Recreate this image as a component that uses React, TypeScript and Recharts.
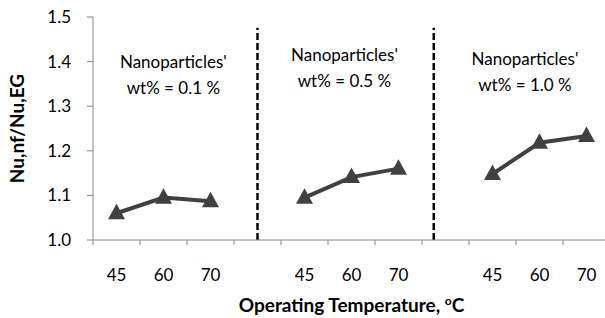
import React from 'react';
import { LineChart, Line, XAxis, YAxis, ReferenceLine, ReferenceDot } from 'recharts';

const temps = ['45', '60', '70', '', '45', '60', '70', '', '45', '60', '70'];
const nuRatio = [1.06, 1.095, 1.087, null, 1.095, 1.141, 1.16, null, 1.148, 1.218, 1.233];
const yTicks = [1.0, 1.1, 1.2, 1.3, 1.4, 1.5];
const groupDividers = [3.5, 7.25];
const notes = [
  { x: 1.71, y: 1.4, text: 'wt% = 0.1 %' },
  { x: 5.35, y: 1.415, text: 'wt% = 0.5 %' },
  { x: 9.19, y: 1.406, text: 'wt% = 1.0 %' },
];

const data = temps.map((t, i) => ({ x: i + 0.5, temp: t, ratio: nuRatio[i] }));
const xTicks: number[] = [];
for (let i = 0; i <= temps.length; i++) {
  xTicks.push(i);
  if (i < temps.length && temps[i] !== '') xTicks.push(i + 0.5);
}

const FONT = 'Lato, "Open Sans", sans-serif';
const AXIS = '#868686';
const INK = '#404040';

function XTick({ x, y, payload }: any) {
  const v = payload.value;
  if (Number.isInteger(v)) {
    return <line x1={x} x2={x} y1={y} y2={y + 5} stroke={AXIS} strokeWidth={1} />;
  }
  return (
    <text x={x} y={y + 41} textAnchor="middle" fontSize={17} fontFamily={FONT} fill="#000">
      {temps[Math.floor(v)]}
    </text>
  );
}

function Triangle({ cx, cy }: any) {
  if (cx == null || cy == null) return null;
  return (
    <path
      d={`M${cx},${cy - 9.5} L${cx + 8.5},${cy + 6} L${cx - 8.5},${cy + 6} Z`}
      fill={INK}
    />
  );
}

function NoteLabel(text: string) {
  return ({ viewBox }: any) => {
    const cx = viewBox.x + (viewBox.width || 0) / 2;
    const cy = viewBox.y + (viewBox.height || 0) / 2;
    return (
      <text textAnchor="middle" fontSize={17} fontFamily={FONT} fill="#000">
        <tspan x={cx} y={cy + 6}>Nanoparticles'</tspan>
        <tspan x={cx} y={cy + 32}>{text}</tspan>
      </text>
    );
  };
}

function XTitle({ viewBox }: any) {
  const cx = viewBox.x + viewBox.width / 2;
  return (
    <text x={cx} y={312} textAnchor="middle" fontSize={19} fontWeight="bold" fontFamily={FONT} fill="#000">
      Operating Temperature, <tspan fontSize={12} dy={-7}>o</tspan>
      <tspan dy={7}>C</tspan>
    </text>
  );
}

export default function App() {
  return (
    <div style={{ position: 'absolute', left: 0, top: 0, width: 605, height: 318, overflow: 'hidden', background: '#fff' }}>
      <LineChart width={610} height={318} data={data} margin={{ top: 17, right: 0, bottom: 0, left: 0 }}>
        <XAxis
          dataKey="x"
          type="number"
          domain={[0, 11]}
          ticks={xTicks}
          interval={0}
          tickSize={0}
          tickMargin={0}
          tickLine={false}
          tick={<XTick />}
          axisLine={{ stroke: AXIS }}
          height={78}
          label={<XTitle />}
        />
        <YAxis
          domain={[1.0, 1.5]}
          ticks={yTicks}
          interval={0}
          width={93}
          tickSize={6}
          tickMargin={16}
          tickFormatter={(v: number) => v.toFixed(1)}
          tick={{ fontSize: 17, fontFamily: FONT, fill: '#000' }}
          axisLine={{ stroke: AXIS }}
          tickLine={{ stroke: AXIS }}
          label={{
            value: 'Nu,nf/Nu,EG',
            angle: -90,
            position: 'insideLeft',
            offset: 17,
            style: { textAnchor: 'middle', fontSize: 19, fontWeight: 'bold', fontFamily: FONT, fill: '#000' },
          }}
        />
        {groupDividers.map((d) => (
          <ReferenceLine
            key={d}
            segment={[{ x: d, y: 1.0 }, { x: d, y: 1.476 }]}
            stroke="#000"
            strokeWidth={2.5}
            strokeDasharray="7 3"
          />
        ))}
        {notes.map((n) => (
          <ReferenceDot key={n.text} x={n.x} y={n.y} r={0} stroke="none" label={NoteLabel(n.text)} />
        ))}
        <Line
          dataKey="ratio"
          stroke={INK}
          strokeWidth={4}
          dot={<Triangle />}
          activeDot={false}
          connectNulls={false}
          isAnimationActive={false}
        />
      </LineChart>
    </div>
  );
}
